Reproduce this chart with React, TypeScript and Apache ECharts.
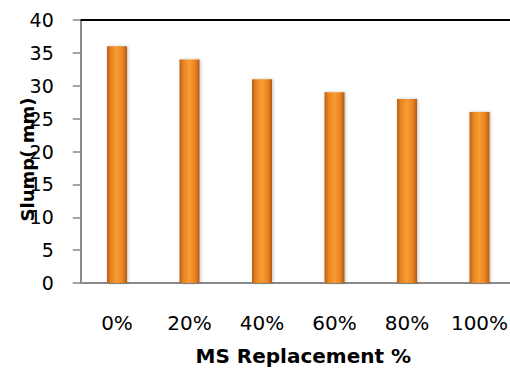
import React, { useEffect, useRef } from "react";
import * as echarts from "echarts";

const categories = ["0%", "20%", "40%", "60%", "80%", "100%"];
const slumpValues = [36, 34, 31, 29, 28, 26];
const yTicks = { min: 0, max: 40, interval: 5 };

const FONT = "DejaVu Sans";

export default function App() {
  const ref = useRef<HTMLDivElement>(null);

  useEffect(() => {
    if (!ref.current) return;
    const chart = echarts.init(ref.current, null, { renderer: "svg" });
    const barGradient = new echarts.graphic.LinearGradient(0, 0, 1, 0, [
      { offset: 0, color: "#b85e1c" },
      { offset: 0.2, color: "#e98520" },
      { offset: 0.5, color: "#fa9c36" },
      { offset: 0.8, color: "#e7821f" },
      { offset: 1, color: "#b0591b" },
    ]);
    chart.setOption({
      animation: false,
      backgroundColor: "#ffffff",
      grid: {
        left: 80.75,
        top: 20,
        width: 435,
        height: 263,
        containLabel: false,
        outerBoundsMode: "none",
      },
      xAxis: [
        {
          type: "category",
          data: categories,
          position: "bottom",
          axisLine: { lineStyle: { color: "#8a8a8a", width: 2 } },
          axisTick: { show: false },
          axisLabel: {
            color: "#000",
            fontFamily: FONT,
            fontSize: 20,
            margin: 30,
            interval: 0,
          },
          name: "MS Replacement %",
          nameLocation: "middle",
          nameGap: 63,
          nameMoveOverlap: false,
          nameTextStyle: {
            color: "#000",
            fontFamily: FONT,
            fontWeight: "bold",
            fontSize: 20,
            padding: [0, 0, 0, 10],
          },
        },
        {
          type: "category",
          data: categories,
          position: "top",
          axisLine: { lineStyle: { color: "#000", width: 2 } },
          axisTick: { show: false },
          axisLabel: { show: false },
        },
      ],
      yAxis: {
        type: "value",
        min: yTicks.min,
        max: yTicks.max,
        interval: yTicks.interval,
        axisLine: { show: true, lineStyle: { color: "#8a8a8a", width: 2 } },
        axisTick: { show: true, length: 8, lineStyle: { color: "#8a8a8a", width: 1.5 } },
        splitLine: { show: false },
        axisLabel: {
          color: "#000",
          fontFamily: FONT,
          fontSize: 19,
          margin: 27,
        },
        name: "Slump( mm)",
        nameLocation: "middle",
        nameGap: 44,
        nameMoveOverlap: false,
        nameTextStyle: {
          color: "#000",
          fontFamily: FONT,
          fontWeight: "bold",
          fontSize: 18,
          padding: [0, 16, 0, 0],
        },
      },
      series: [
        {
          type: "bar",
          data: slumpValues,
          barWidth: 20,
          itemStyle: {
            color: barGradient,
            shadowColor: "rgba(0,0,0,0.25)",
            shadowBlur: 3,
            shadowOffsetX: 1,
          },
        },
      ],
    });
    return () => chart.dispose();
  }, []);

  return (
    <div
      ref={ref}
      style={{ position: "fixed", left: 0, top: 0, width: 510, height: 369 }}
    />
  );
}
